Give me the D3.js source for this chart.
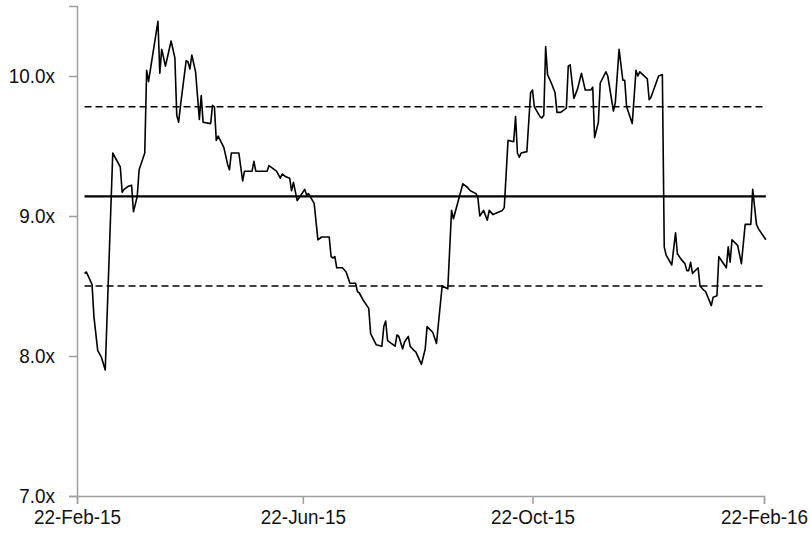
<!DOCTYPE html>
<meta charset="utf-8">
<style>
body { margin: 0; background: #fff; }
.axis path, .axis line { stroke: #a0a0a0; stroke-width: 1.5px; }
.axis text { font-family: "Liberation Sans", Arial, sans-serif; font-size: 21px; fill: #111; }
</style>
<svg width="810" height="537"></svg>
<script src="https://cdn.jsdelivr.net/npm/d3@7"></script>
<script>

// P/E multiple
var dates = ["2015-02-26","2015-02-27","2015-03-02","2015-03-03","2015-03-05","2015-03-07","2015-03-09","2015-03-13",
  "2015-03-17","2015-03-18","2015-03-19","2015-03-21","2015-03-23","2015-03-24","2015-03-26","2015-03-27","2015-03-30",
  "2015-03-31","2015-04-01","2015-04-06","2015-04-07","2015-04-08","2015-04-10","2015-04-13","2015-04-15","2015-04-16",
  "2015-04-17","2015-04-18","2015-04-21","2015-04-22","2015-04-23","2015-04-24","2015-04-26","2015-04-28","2015-04-29",
  "2015-04-30","2015-05-04","2015-05-05","2015-05-06","2015-05-07","2015-05-08","2015-05-11","2015-05-13","2015-05-14",
  "2015-05-15","2015-05-19","2015-05-21","2015-05-22","2015-05-26","2015-05-27","2015-05-28","2015-06-03","2015-06-04",
  "2015-06-06","2015-06-08","2015-06-10","2015-06-11","2015-06-13","2015-06-15","2015-06-16","2015-06-17","2015-06-19",
  "2015-06-22","2015-06-23","2015-06-24","2015-06-25","2015-06-28","2015-06-30","2015-07-02","2015-07-06","2015-07-07",
  "2015-07-08","2015-07-09","2015-07-10","2015-07-13","2015-07-15","2015-07-17","2015-07-20","2015-07-21","2015-07-22",
  "2015-07-24","2015-07-27","2015-07-28","2015-07-31","2015-08-03","2015-08-04","2015-08-05","2015-08-06","2015-08-08",
  "2015-08-10","2015-08-11","2015-08-12","2015-08-14","2015-08-15","2015-08-17","2015-08-18","2015-08-20","2015-08-21",
  "2015-08-24","2015-08-26","2015-08-27","2015-08-30","2015-09-01","2015-09-04","2015-09-07","2015-09-09","2015-09-10",
  "2015-09-15","2015-09-17","2015-09-19","2015-09-22","2015-09-23","2015-09-24","2015-09-26","2015-09-28","2015-09-29",
  "2015-10-01","2015-10-06","2015-10-07","2015-10-09","2015-10-12","2015-10-13","2015-10-14","2015-10-15","2015-10-16",
  "2015-10-19","2015-10-21","2015-10-22","2015-10-23","2015-10-26","2015-10-27","2015-10-28","2015-10-29","2015-10-30",
  "2015-11-01","2015-11-03","2015-11-04","2015-11-06","2015-11-09","2015-11-10","2015-11-11","2015-11-13","2015-11-15",
  "2015-11-17","2015-11-19","2015-11-22","2015-11-23","2015-11-24","2015-11-26","2015-11-27","2015-11-30","2015-12-01",
  "2015-12-04","2015-12-05","2015-12-07","2015-12-09","2015-12-10","2015-12-11","2015-12-14","2015-12-16","2015-12-17",
  "2015-12-18","2015-12-22","2015-12-23","2015-12-24","2015-12-28","2015-12-30","2015-12-31","2016-01-01","2016-01-04",
  "2016-01-06","2016-01-07","2016-01-09","2016-01-11","2016-01-12","2016-01-13","2016-01-14","2016-01-15","2016-01-18",
  "2016-01-19","2016-01-21","2016-01-22","2016-01-25","2016-01-26","2016-01-28","2016-01-29","2016-01-31","2016-02-02",
  "2016-02-03","2016-02-04","2016-02-05","2016-02-08","2016-02-10","2016-02-12","2016-02-15","2016-02-16","2016-02-18",
  "2016-02-19","2016-02-23"];

var multiples = [8.59,8.60,8.51,8.28,8.04,7.99,7.90,9.45,
  9.35,9.17,9.19,9.21,9.22,9.03,9.14,9.33,9.45,
  10.04,9.96,10.39,10.02,10.19,10.07,10.25,10.13,9.72,
  9.67,9.79,10.11,10.10,10.05,10.15,10.03,9.69,9.86,
  9.67,9.66,9.79,9.78,9.54,9.57,9.49,9.37,9.33,
  9.45,9.45,9.25,9.32,9.32,9.39,9.32,9.32,9.36,
  9.34,9.32,9.27,9.30,9.28,9.27,9.18,9.24,9.11,
  9.17,9.19,9.15,9.16,9.09,8.83,8.85,8.85,8.71,
  8.70,8.71,8.63,8.63,8.60,8.52,8.52,8.46,8.45,
  8.40,8.34,8.16,8.08,8.07,8.21,8.25,8.11,8.09,
  8.07,8.15,8.14,8.05,8.10,8.14,8.07,8.04,8.03,
  7.94,8.05,8.21,8.17,8.09,8.50,8.48,9.04,8.98,
  9.23,9.21,9.18,9.16,9.13,9.00,9.04,8.97,9.04,
  9.01,9.04,9.06,9.54,9.53,9.71,9.45,9.42,9.45,
  9.46,9.88,9.90,9.78,9.71,9.70,9.72,10.21,10.01,
  9.95,9.88,9.74,9.74,9.77,10.07,10.08,9.84,9.91,
  10.02,9.90,9.90,9.92,9.56,9.67,9.95,10.03,10.00,
  9.75,9.81,10.19,9.97,9.97,9.78,9.66,10.04,10.00,
  10.03,9.98,9.83,9.85,10.00,10.01,8.78,8.72,8.65,
  8.88,8.73,8.69,8.66,8.61,8.61,8.67,8.59,8.63,
  8.50,8.47,8.46,8.36,8.42,8.43,8.71,8.67,8.63,
  8.78,8.67,8.83,8.79,8.66,8.94,8.94,9.19,8.94,
  8.91,8.83];

// average and +/- 1 standard deviation
var meanMultiple = 9.14;
var bandMultiples = [9.78, 8.50];

var xTickDates = ["2015-02-22","2015-06-22","2015-10-22","2016-02-22"];
var yTickValues = [7, 8, 9, 10];

var parse = d3.timeParse("%Y-%m-%d");
var data = dates.map(function(d, i) { return { date: parse(d), value: multiples[i] }; });

var svg = d3.select("svg"),
    margin = {top: 6, right: 46, bottom: 41, left: 77},
    width = +svg.attr("width") - margin.left - margin.right,
    height = +svg.attr("height") - margin.top - margin.bottom;

var g = svg.append("g").attr("transform", "translate(" + margin.left + "," + margin.top + ")");

var x = d3.scaleTime()
    .domain([parse(xTickDates[0]), parse(xTickDates[xTickDates.length - 1])])
    .range([0, width]);

var y = d3.scaleLinear()
    .domain([7, 10.5])
    .range([height, 0]);

var squeeze = 0.9; // labels in the picture are slightly condensed

var yAxis = g.append("g")
    .attr("class", "axis")
    .call(d3.axisLeft(y).tickValues(yTickValues).tickSize(8).tickPadding(14)
        .tickFormat(function(d) { return d3.format(".1f")(d) + "x"; }));
yAxis.selectAll("text")
    .attr("transform", "scale(" + squeeze + ",1)")
    .attr("x", -22 / squeeze);

var xAxis = g.append("g")
    .attr("class", "axis")
    .attr("transform", "translate(0," + height + ")")
    .call(d3.axisBottom(x).tickValues(xTickDates.map(parse)).tickSize(8).tickPadding(5)
        .tickFormat(d3.timeFormat("%-d-%b-%y")));
xAxis.selectAll("text")
    .attr("transform", "scale(" + squeeze + ",1)");

var first = data[0].date, last = data[data.length - 1].date;

// average line
g.append("line")
    .attr("x1", x(first)).attr("x2", x(last))
    .attr("y1", y(meanMultiple)).attr("y2", y(meanMultiple))
    .attr("stroke", "#000")
    .attr("stroke-width", 2.2);

// +/- 1 sd lines
g.selectAll(".band")
  .data(bandMultiples)
  .enter().append("line")
    .attr("class", "band")
    .attr("x1", x(first)).attr("x2", x(last))
    .attr("y1", function(d) { return y(d); })
    .attr("y2", function(d) { return y(d); })
    .attr("stroke", "#000")
    .attr("stroke-width", 1.6)
    .attr("stroke-dasharray", "7,4");

var line = d3.line()
    .x(function(d) { return x(d.date); })
    .y(function(d) { return y(d.value); });

g.append("path")
    .datum(data)
    .attr("fill", "none")
    .attr("stroke", "#000")
    .attr("stroke-width", 1.6)
    .attr("stroke-linejoin", "round")
    .attr("d", line);
</script>
